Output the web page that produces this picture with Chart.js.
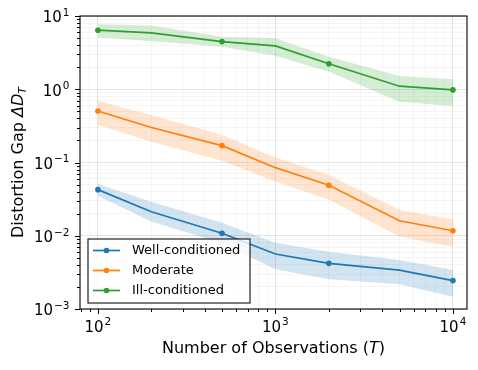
<!DOCTYPE html>
<html>
<head>
<meta charset="utf-8">
<script src="https://cdn.jsdelivr.net/npm/chart.js@4.4.1/dist/chart.umd.min.js"></script>
<style>
  html, body { margin: 0; padding: 0; background: #fff; }
</style>
</head>
<body>
<canvas id="chart" width="478" height="370"></canvas>
<script>
// number of observations T
const observations = [100, 200, 500, 1000, 2000, 5000, 10000];

// mean distortion gap and the shaded band
const wellMean  = [0.0426, 0.0213, 0.0108, 0.00564, 0.0042, 0.0034, 0.00244];
const wellUpper = [0.0509, 0.0292, 0.0151, 0.00803, 0.00607, 0.00467, 0.0034];
const wellLower = [0.0349, 0.0156, 0.00787, 0.00348, 0.00254, 0.00217, 0.00147];

const modMean  = [0.505, 0.30, 0.17, 0.085, 0.049, 0.016, 0.0117];
const modUpper = [0.69, 0.445, 0.237, 0.117, 0.0676, 0.0225, 0.0168];
const modLower = [0.325, 0.192, 0.106, 0.055, 0.031, 0.0098, 0.0071];

const illMean  = [6.4, 5.9, 4.47, 3.9, 2.23, 1.1, 0.98];
const illUpper = [7.7, 7.4, 5.2, 4.95, 2.78, 1.52, 1.37];
const illLower = [5.1, 4.56, 3.8, 2.87, 1.74, 0.676, 0.59];

const seriesNames = ["Well-conditioned", "Moderate", "Ill-conditioned"];

const cblue = "#1f77b4";
const corange = "#ff7f0e";
const cgreen = "#2ca02c";

// markers only on every other point
const markerRadius = [2.8, 0, 2.8, 0, 2.8, 0, 2.8];

const toPoints = (vals) => observations.map((t, i) => ({ x: t, y: vals[i] }));

// 1..9 x 10^n inside [min, max]
function logTicks(min, max) {
  const out = [];
  for (let e = Math.floor(Math.log10(min)); e <= Math.ceil(Math.log10(max)); e++) {
    for (let m = 1; m <= 9; m++) {
      const v = m * Math.pow(10, e);
      if (v >= min * 0.9999 && v <= max * 1.0001) out.push({ value: v, major: m === 1 });
    }
  }
  return out;
}

function band(upper, lower, color, fillTo) {
  return [
    { data: toPoints(upper), borderWidth: 0, pointRadius: 0, backgroundColor: color, fill: fillTo, order: 2 },
    { data: toPoints(lower), borderWidth: 0, pointRadius: 0, fill: false, order: 2 },
  ];
}

function line(label, vals, color) {
  return {
    label: label,
    data: toPoints(vals),
    borderColor: color,
    backgroundColor: color,
    borderWidth: 1.7,
    pointRadius: markerRadius,
    pointBorderWidth: 0,
    fill: false,
    order: 0,
  };
}

const datasets = [
  ...band(wellUpper, wellLower, "rgba(31,119,180,0.2)", 1),
  ...band(modUpper, modLower, "rgba(255,127,14,0.2)", 3),
  ...band(illUpper, illLower, "rgba(44,160,44,0.2)", 5),
  line(seriesNames[0], wellMean, cblue),
  line(seriesNames[1], modMean, corange),
  line(seriesNames[2], illMean, cgreen),
];

const FONT = "'DejaVu Sans', sans-serif";
const BASE = "15px " + FONT;
const EXP = "10.5px " + FONT;

// "10" with a raised exponent, like mathtext
function powParts(ctx, v) {
  const e = String(Math.round(Math.log10(v))).replace("-", "\u2212");
  ctx.font = BASE;
  const w1 = ctx.measureText("10").width;
  ctx.font = EXP;
  const w2 = ctx.measureText(e).width;
  return { e, w1, w2 };
}

function drawPow(ctx, v, left, baseline) {
  const p = powParts(ctx, v);
  ctx.font = BASE;
  ctx.fillText("10", left, baseline);
  ctx.font = EXP;
  ctx.fillText(p.e, left + p.w1 + 1, baseline - 6.5);
  return p.w1 + 1 + p.w2;
}

// frame, outward tick marks, tick labels, axis titles, legend box
const decor = {
  id: "decor",
  afterDraw(chart) {
    const { ctx, chartArea: a, scales: { x, y } } = chart;
    ctx.save();
    ctx.strokeStyle = "#000";
    ctx.lineWidth = 1;
    ctx.beginPath();
    x.ticks.forEach(t => {
      const px = Math.round(x.getPixelForValue(t.value)) + 0.5;
      ctx.moveTo(px, a.bottom);
      ctx.lineTo(px, a.bottom + (t.major ? 5 : 3));
    });
    y.ticks.forEach(t => {
      const py = Math.round(y.getPixelForValue(t.value)) + 0.5;
      ctx.moveTo(a.left, py);
      ctx.lineTo(a.left - (t.major ? 5 : 3), py);
    });
    ctx.stroke();

    ctx.lineWidth = 1.1;
    ctx.strokeRect(a.left, a.top, a.right - a.left, a.bottom - a.top);

    // tick labels
    ctx.fillStyle = "#000";
    ctx.textBaseline = "alphabetic";
    ctx.textAlign = "left";
    x.ticks.filter(t => t.major).forEach(t => {
      const p = powParts(ctx, t.value);
      const w = p.w1 + 1 + p.w2;
      drawPow(ctx, t.value, x.getPixelForValue(t.value) - w / 2, 331.5);
    });
    y.ticks.filter(t => t.major).forEach(t => {
      const p = powParts(ctx, t.value);
      const w = p.w1 + 1 + p.w2;
      drawPow(ctx, t.value, 69.5 - w, y.getPixelForValue(t.value) + 6.3);
    });

    // x title
    ctx.textBaseline = "middle";
    const normal = "16px " + FONT, italic = "italic 16px " + FONT;
    const xParts = [["Number of Observations (", normal], ["T", italic], [")", normal]];
    let w = 0;
    xParts.forEach(p => { ctx.font = p[1]; w += ctx.measureText(p[0]).width; });
    let cx = (a.left + a.right) / 2 - w / 2;
    xParts.forEach(p => { ctx.font = p[1]; ctx.fillText(p[0], cx, 349); cx += ctx.measureText(p[0]).width; });

    // y title, rotated
    ctx.save();
    ctx.translate(19, (a.top + a.bottom) / 2);
    ctx.rotate(-Math.PI / 2);
    const yParts = [["Distortion Gap ", normal, 0], ["\u0394D", italic, 0], ["T", "italic 11px " + FONT, 4]];
    w = 0;
    yParts.forEach(p => { ctx.font = p[1]; w += ctx.measureText(p[0]).width; });
    cx = -w / 2;
    yParts.forEach(p => { ctx.font = p[1]; ctx.fillText(p[0], cx, p[2]); cx += ctx.measureText(p[0]).width; });
    ctx.restore();

    // legend, lower left inside the axes
    const lx = 88, ly = 239, lw = 162, lh = 64;
    ctx.fillStyle = "rgba(255,255,255,0.8)";
    ctx.fillRect(lx, ly, lw, lh);
    ctx.strokeStyle = "#222";
    ctx.lineWidth = 1.2;
    ctx.strokeRect(lx, ly, lw, lh);
    const colors = [cblue, corange, cgreen];
    ctx.font = "13px " + FONT;
    seriesNames.forEach((name, i) => {
      const ry = 250.5 + i * 20;
      ctx.strokeStyle = colors[i];
      ctx.lineWidth = 1.7;
      ctx.beginPath();
      ctx.moveTo(93, ry);
      ctx.lineTo(120, ry);
      ctx.stroke();
      ctx.fillStyle = colors[i];
      ctx.beginPath();
      ctx.arc(106.5, ry, 2.8, 0, Math.PI * 2);
      ctx.fill();
      ctx.fillStyle = "#000";
      ctx.fillText(name, 132, ry + 0.5);
    });
    ctx.restore();
  }
};

const gridColor = (ctx) => ctx.tick && ctx.tick.major ? "rgba(0,0,0,0.13)" : "rgba(0,0,0,0.05)";

new Chart(document.getElementById("chart"), {
  type: "line",
  data: { datasets: datasets },
  options: {
    responsive: false,
    animation: false,
    devicePixelRatio: 1,
    layout: { padding: { left: 0, top: 16, right: 11, bottom: 0 } },
    plugins: {
      legend: { display: false },
      tooltip: { enabled: false },
    },
    scales: {
      x: {
        type: "logarithmic",
        min: 79.3,
        max: 12000,
        afterBuildTicks: (axis) => { axis.ticks = logTicks(axis.min, axis.max); },
        afterFit: (axis) => { axis.height = 61; },
        border: { display: false },
        grid: { color: gridColor, lineWidth: 0.8, drawTicks: false },
        ticks: { display: false },
      },
      y: {
        type: "logarithmic",
        min: 0.001,
        max: 10,
        afterBuildTicks: (axis) => { axis.ticks = logTicks(axis.min, axis.max); },
        afterFit: (axis) => { axis.width = 80; },
        border: { display: false },
        grid: { color: gridColor, lineWidth: 0.8, drawTicks: false },
        ticks: { display: false },
      },
    },
  },
  plugins: [decor],
});
</script>
</body>
</html>
